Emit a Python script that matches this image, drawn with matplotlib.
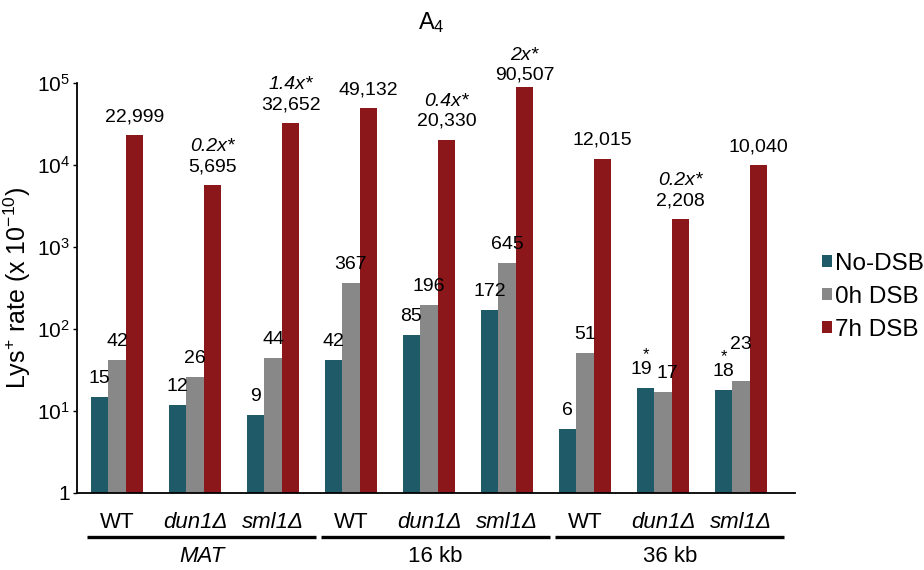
import matplotlib
matplotlib.use("Agg")
import matplotlib.pyplot as plt
import matplotlib.transforms as mtransforms
import numpy as np

plt.rcParams["font.family"] = ["Liberation Sans", "DejaVu Sans"]
plt.rcParams["mathtext.fontset"] = "custom"
plt.rcParams["mathtext.rm"] = "Liberation Sans"
plt.rcParams["mathtext.it"] = "Liberation Sans:italic"

# ---- data ----
strains = ["WT", "dun1Δ", "sml1Δ", "WT", "dun1Δ", "sml1Δ", "WT", "dun1Δ", "sml1Δ"]
loci = ["MAT", "16 kb", "36 kb"]
series_names = ["No-DSB", "0h DSB", "7h DSB"]
no_dsb = [15, 12, 9, 42, 85, 172, 6, 19, 18]
h0_dsb = [42, 26, 44, 367, 196, 645, 51, 17, 23]
h7_dsb = [22999, 5695, 32652, 49132, 20330, 90507, 12015, 2208, 10040]
fold_change = [None, "0.2x*", "1.4x*", None, "0.4x*", "2x*", None, "0.2x*", None]
no_dsb_star = [False, False, False, False, False, False, False, True, True]

colors = ["#1f5a68", "#888888", "#8b171a"]

fig = plt.figure(figsize=(9.24, 5.70), dpi=100)
ax = fig.add_axes([0.0833, 0.1351, 0.777, 0.719])

x = np.arange(len(strains))
w = 0.225
all_series = [no_dsb, h0_dsb, h7_dsb]
for k, (vals, c, name) in enumerate(zip(all_series, colors, series_names)):
    ax.bar(x + (k - 1) * w, vals, width=w, color=c, label=name, zorder=2)

ax.set_yscale("log")
ax.set_ylim(1, 1e5)
ax.set_xlim(-0.513, 8.69)

ax.set_yticks([1, 10, 100, 1e3, 1e4, 1e5])
ax.set_yticklabels(["1", r"10$^{1}$", r"10$^{2}$", r"10$^{3}$", r"10$^{4}$", r"10$^{5}$"],
                   fontsize=15)
ax.yaxis.set_minor_locator(matplotlib.ticker.NullLocator())
ax.tick_params(axis="y", length=3, width=1, pad=2)
ax.set_xticks([])
for s in ["top", "right"]:
    ax.spines[s].set_visible(False)
for s in ["left", "bottom"]:
    ax.spines[s].set_linewidth(1.3)

ax.set_ylabel(r"Lys$^{+}$ rate (x 10$^{-10}$)", fontsize=18, labelpad=3)

# value labels over each bar (small sideways nudges where labels crowd)
label_fs = 14
base_off = 10
extra = {(2, 5): -5, (1, 8): 13}
nudge_x = {(0, 7): -3, (1, 7): 3}
for k, vals in enumerate(all_series):
    for i, v in enumerate(vals):
        off = base_off + extra.get((k, i), 0)
        ax.annotate(f"{v:,}", (x[i] + (k - 1) * w, v),
                    xytext=(nudge_x.get((k, i), 0), off),
                    textcoords="offset points", ha="center", va="baseline",
                    fontsize=label_fs)
        if k == 2 and fold_change[i]:
            ax.annotate(fold_change[i], (x[i] + w, v), xytext=(0, off + 14.5),
                        textcoords="offset points", ha="center", va="baseline",
                        fontsize=label_fs, style="italic")
        if k == 0 and no_dsb_star[i]:
            ax.annotate("*", (x[i] - w, v), xytext=(0, off + 11),
                        textcoords="offset points", ha="center", va="baseline",
                        fontsize=12)

# strain and locus labels under the axis
trans = mtransforms.blended_transform_factory(ax.transData, ax.transAxes)
for i, s in enumerate(strains):
    ax.text(x[i], -0.072, s, transform=trans, ha="center", va="center",
            fontsize=16, style="normal" if s == "WT" else "italic")
for g, name in enumerate(loci):
    x0, x1 = 3 * g - 0.38, 3 * g + 2.55
    ax.plot([x0, x1], [-0.107, -0.107], transform=trans, color="black",
            lw=2.4, clip_on=False, solid_capstyle="butt")
    ax.text((x0 + x1) / 2, -0.155, name, transform=trans, ha="center",
            va="center", fontsize=16, style="italic" if name == "MAT" else "normal")

fig.text(431 / 924, 0.961, r"A$_{4}$", ha="center", va="center", fontsize=17)

fig.legend(loc="center left", bbox_to_anchor=(0.8896, 0.479), frameon=False,
           fontsize=17.5, handlelength=0.4, handleheight=0.4,
           handletextpad=0.15, labelspacing=0.45, borderpad=0, borderaxespad=0)

fig.savefig("out.png", dpi=100)
